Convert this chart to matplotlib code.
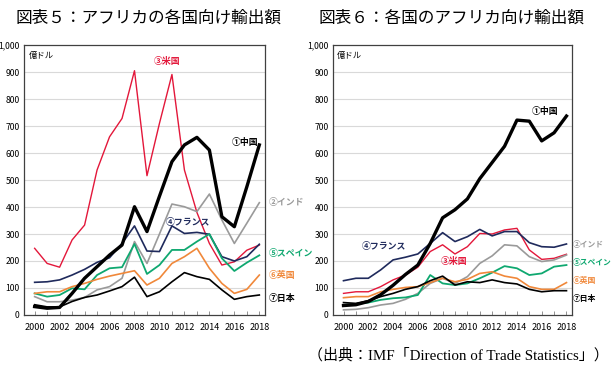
import matplotlib
matplotlib.use("Agg")
import matplotlib.pyplot as plt
import numpy as np

plt.rcParams['font.family'] = ['Liberation Sans Narrow', 'Noto Sans CJK JP', 'DejaVu Sans']

years = list(range(2000, 2019))

# Fig 5: Africa's exports to each country (100 million USD)
exp_china = [31, 25, 28, 80, 136, 179, 222, 259, 401, 309, 440, 568, 630, 658, 611, 364, 327, 475, 630]
exp_india = [68, 49, 49, 55, 65, 93, 105, 136, 272, 191, 300, 411, 401, 383, 448, 352, 265, 340, 416]
exp_usa = [247, 191, 177, 278, 333, 537, 660, 728, 905, 516, 710, 891, 537, 380, 265, 185, 197, 240, 259]
exp_france = [121, 123, 130, 148, 169, 195, 212, 265, 330, 237, 235, 330, 302, 306, 299, 216, 200, 216, 262]
exp_spain = [80, 68, 74, 99, 95, 148, 173, 177, 263, 152, 185, 241, 241, 272, 300, 210, 163, 194, 221]
exp_uk = [80, 86, 86, 105, 117, 132, 144, 154, 164, 111, 136, 191, 216, 247, 173, 117, 80, 95, 148]
exp_japan = [38, 30, 30, 50, 65, 74, 89, 105, 140, 68, 86, 123, 157, 142, 132, 93, 58, 68, 74]

# Fig 6: each country's exports to Africa
imp_china = [35, 38, 50, 75, 110, 150, 185, 265, 360, 390, 430, 505, 565, 625, 722, 718, 645, 675, 737]
imp_india = [19, 21, 27, 37, 43, 58, 80, 117, 136, 117, 142, 191, 219, 260, 256, 216, 198, 204, 222]
imp_usa = [80, 86, 86, 105, 130, 148, 177, 235, 260, 226, 253, 302, 300, 315, 321, 241, 206, 210, 225]
imp_france = [127, 136, 136, 167, 204, 214, 226, 265, 305, 272, 290, 317, 293, 309, 309, 268, 253, 251, 263]
imp_spain = [37, 41, 46, 56, 62, 65, 74, 148, 117, 111, 117, 136, 157, 181, 173, 148, 154, 179, 185]
imp_uk = [64, 68, 68, 86, 95, 102, 105, 120, 136, 123, 132, 154, 160, 144, 136, 105, 95, 95, 120]
imp_japan = [46, 43, 53, 68, 80, 95, 105, 127, 144, 111, 123, 120, 130, 120, 115, 95, 86, 90, 90]

names = ["①中国", "②インド", "③米国", "④フランス", "⑤スペイン", "⑥英国", "⑦日本"]
colors = ["#000000", "#9a9a9a", "#e3173a", "#1f2a5c", "#0fa870", "#f0883a", "#000000"]
widths = [2.4, 1.2, 1.0, 1.2, 1.3, 1.2, 1.2]

titles = ["図表５：アフリカの各国向け輸出額", "図表６：各国のアフリカ向け輸出額"]

fig = plt.figure(figsize=(6.13, 3.77), dpi=100)


def setup(ax):
    ax.set_xlim(1999.15, 2018.45)
    ax.set_ylim(0, 1000)
    ax.set_yticks(range(0, 1001, 100))
    ax.set_yticklabels(["0"] + [str(v) for v in range(100, 1000, 100)] + ["1,000"])
    ax.set_xticks(range(2000, 2019, 2))
    ax.set_xticks(years, minor=True)
    ax.tick_params(axis="y", length=0, labelsize=6.2, pad=3)
    ax.tick_params(axis="x", which="both", direction="in", length=3, width=0.6,
                   labelsize=6.5, pad=6, color="#808080")
    for v in range(100, 1000, 100):
        ax.axhline(v, color="#d9d9d9", linewidth=0.8, zorder=0)
    for s in ax.spines.values():
        s.set_color("#404040")
        s.set_linewidth(0.9)
    ax.text(2000 - 0.5, 960, "億ドル", fontsize=6, va="center", ha="left",
            family=["Noto Sans CJK JP"])


def draw(ax, series):
    order = [2, 1, 3, 4, 5, 6, 0]
    for i in order:
        ax.plot(years, series[i], color=colors[i], linewidth=widths[i], zorder=3 + (i == 0))


ax1 = fig.add_axes([0.0392, 0.1645, 0.393, 0.716])
setup(ax1)
draw(ax1, [exp_china, exp_india, exp_usa, exp_france, exp_spain, exp_uk, exp_japan])

lab = dict(fontsize=6.4, fontweight="bold", family=["Noto Sans CJK JP"], va="center", clip_on=False)
ax1.text(2017.9, 640, names[0], color=colors[0], ha="right", **lab)
ax1.text(2018.75, 415, names[1], color=colors[1], ha="left", **lab)
ax1.text(2010.6, 940, names[2], color=colors[2], ha="center", **lab)
ax1.text(2010.5, 343, names[3], color=colors[3], ha="left", **lab)
ax1.text(2018.75, 228, names[4], color=colors[4], ha="left", **lab)
ax1.text(2018.75, 145, names[5], color=colors[5], ha="left", **lab)
ax1.text(2018.75, 60, names[6], color=colors[6], ha="left", **lab)

ax2 = fig.add_axes([0.5432, 0.1645, 0.390, 0.716])
setup(ax2)
draw(ax2, [imp_china, imp_india, imp_usa, imp_france, imp_spain, imp_uk, imp_japan])
ax2.text(2015.2, 755, names[0], color=colors[0], ha="left", **lab)
ax2.text(2008.9, 198, names[2], color=colors[2], ha="center", **lab)
ax2.text(2001.5, 252, names[3], color=colors[3], ha="left", **lab)
rlab = dict(lab, fontsize=5.6)
ax2.text(2018.52, 260, names[1], color=colors[1], ha="left", **rlab)
ax2.text(2018.52, 195, names[4], color=colors[4], ha="left", **rlab)
ax2.text(2018.52, 127, names[5], color=colors[5], ha="left", **rlab)
ax2.text(2018.52, 62, names[6], color=colors[6], ha="left", **rlab)

fig.text(0.243, 0.952, titles[0], fontsize=12, ha="center", va="center",
         family=["Noto Sans CJK JP"])
fig.text(0.736, 0.952, titles[1], fontsize=12, ha="center", va="center",
         family=["Noto Sans CJK JP"])
fig.text(0.993, 0.058, "（出典：IMF「Direction of Trade Statistics」）", fontsize=10.8,
         ha="right", va="center", family=["Liberation Serif", "Noto Sans CJK JP"])

fig.savefig("out.png", dpi=100)
